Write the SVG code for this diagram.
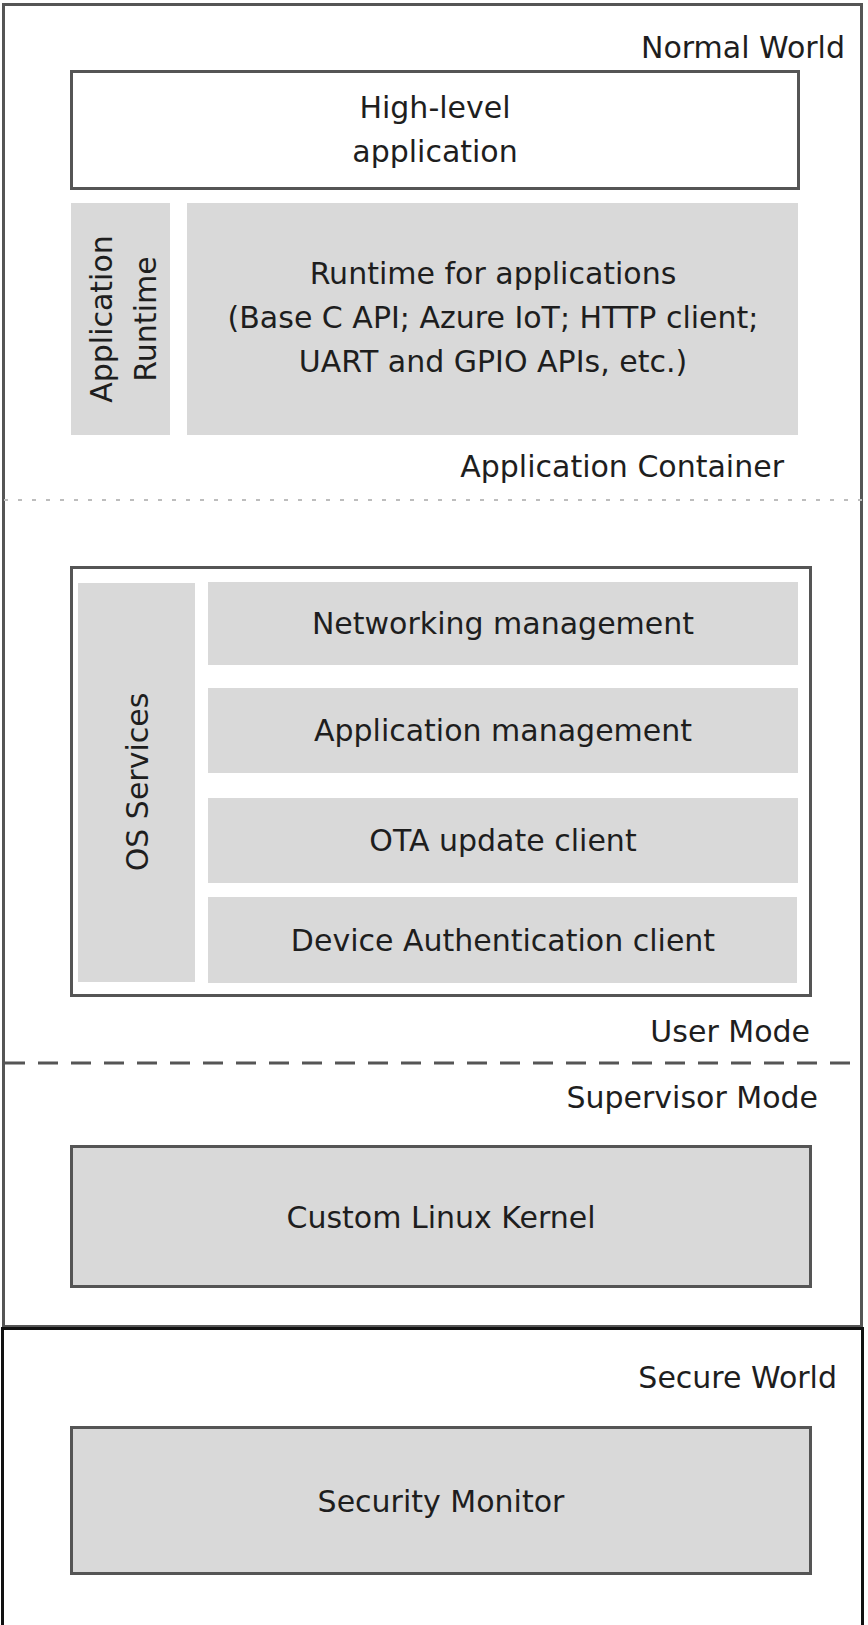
<svg xmlns="http://www.w3.org/2000/svg" width="868" height="1625" viewBox="0 0 868 1625">
<style>
text{font-family:"DejaVu Sans","Liberation Sans",sans-serif;font-size:30px;fill:#1e1e1e}
.c{text-anchor:middle}
.e{text-anchor:end}
.g{fill:#d9d9d9;stroke:none}
.b{stroke:#555;stroke-width:3}
</style>
<rect x="0" y="0" width="868" height="1625" fill="#fff"/>
<g id="normal-world">
<rect x="3.5" y="4.5" width="858" height="1322" fill="#fff" stroke="#555" stroke-width="3"/>
<text class="e" x="845" y="58">Normal World</text>
</g>
<g id="secure-world">
<rect x="2.5" y="1328.5" width="860" height="1294" fill="#fff" stroke="#111" stroke-width="3"/>
<text class="e" x="837" y="1388">Secure World</text>
</g>
<g id="connectors">
<line x1="4" y1="500" x2="862" y2="500" stroke="#bdbdbd" stroke-width="2" stroke-dasharray="4 10"/>
<line x1="5" y1="1063" x2="862" y2="1063" stroke="#555" stroke-width="3" stroke-dasharray="20 13"/>
</g>
<g id="high-level-app">
<rect class="b" x="71.5" y="71.5" width="727" height="117" fill="#fff"/>
<text class="c" x="435" y="118">High-level</text>
<text class="c" x="435" y="162">application</text>
</g>
<g id="application-runtime">
<rect class="g" x="71" y="203" width="99" height="232"/>
<text class="c" transform="translate(112,319) rotate(-90)">Application</text>
<text class="c" transform="translate(156,319) rotate(-90)">Runtime</text>
</g>
<g id="runtime-for-apps">
<rect class="g" x="187" y="203" width="611" height="232"/>
<text class="c" x="493" y="284">Runtime for applications</text>
<text class="c" x="493" y="328">(Base C API; Azure IoT; HTTP client;</text>
<text class="c" x="493" y="372">UART and GPIO APIs, etc.)</text>
</g>
<g id="app-container-label">
<text class="e" x="784" y="477">Application Container</text>
</g>
<g id="os-container">
<rect class="b" x="71.5" y="567.5" width="739" height="428" fill="#fff"/>
</g>
<g id="os-services">
<rect class="g" x="78" y="583" width="117" height="399"/>
<text class="c" transform="translate(148,782) rotate(-90)">OS Services</text>
</g>
<g id="networking-management">
<rect class="g" x="208" y="582" width="590" height="83"/>
<text class="c" x="503" y="634">Networking management</text>
</g>
<g id="application-management">
<rect class="g" x="208" y="688" width="590" height="85"/>
<text class="c" x="503" y="741">Application management</text>
</g>
<g id="ota-update-client">
<rect class="g" x="208" y="798" width="590" height="85"/>
<text class="c" x="503" y="851">OTA update client</text>
</g>
<g id="device-auth-client">
<rect class="g" x="208" y="897" width="589" height="86"/>
<text class="c" x="503" y="951">Device Authentication client</text>
</g>
<g id="user-mode-label">
<text class="e" x="810" y="1042">User Mode</text>
</g>
<g id="supervisor-mode-label">
<text class="e" x="818" y="1108">Supervisor Mode</text>
</g>
<g id="custom-linux-kernel">
<rect class="b" x="71.5" y="1146.5" width="739" height="140" fill="#d9d9d9"/>
<text class="c" x="441" y="1228">Custom Linux Kernel</text>
</g>
<g id="security-monitor">
<rect class="b" x="71.5" y="1427.5" width="739" height="146" fill="#d9d9d9"/>
<text class="c" x="441" y="1512">Security Monitor</text>
</g>
</svg>
